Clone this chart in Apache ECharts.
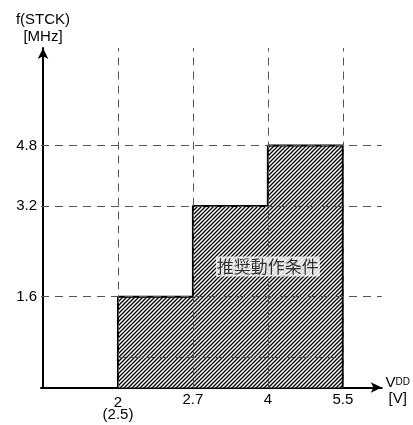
<!DOCTYPE html>
<html>
<head>
<meta charset="utf-8">
<script src="https://cdn.jsdelivr.net/npm/echarts@6/dist/echarts.min.js"></script>
<style>
  html, body { margin: 0; padding: 0; background: #fff; }
  #chart { width: 413px; height: 425px; }
</style>
</head>
<body>
<div id="chart"></div>
<script>
// VDD tick values [V], drawn equally spaced (schematic axis)
const vddTicks = [2, 2.7, 4, 5.5];
const vddSubLabels = ['(2.5)', '', '', ''];
// frequency ticks [MHz] and the schematic grid row each one sits on
const freqTicks = [1.6, 3.2, 4.8];
const freqRows = [3, 6, 8];
// max f(STCK) allowed in each VDD band [vddTicks[i], vddTicks[i+1]]
const bandMaxFreq = [1.6, 3.2, 4.8];
const regionLabel = '推奨動作条件';

const FONT = '"Liberation Sans", Arial, sans-serif';

function xPos(v) { return vddTicks.indexOf(v) + 1; }
function yPos(f) { return f === 0 ? 0 : freqRows[freqTicks.indexOf(f)]; }

// outline of the operating region
let outline = [[xPos(vddTicks[0]), 0]];
bandMaxFreq.forEach(function (f, i) {
  outline.push([xPos(vddTicks[i]), yPos(f)]);
  outline.push([xPos(vddTicks[i + 1]), yPos(f)]);
});
outline.push([xPos(vddTicks[vddTicks.length - 1]), 0]);

// diagonal hatch tile
function hatch() {
  let c = document.createElement('canvas');
  c.width = 4; c.height = 4;
  let g = c.getContext('2d');
  g.fillStyle = '#fff';
  g.fillRect(0, 0, 4, 4);
  g.strokeStyle = '#000';
  g.lineWidth = 1.3;
  g.beginPath();
  g.moveTo(-1, 5); g.lineTo(5, -1);
  g.moveTo(-1, 1); g.lineTo(1, -1);
  g.moveTo(3, 5); g.lineTo(5, 3);
  g.stroke();
  return c;
}

let guideLines = [];
freqTicks.forEach(function (f) { guideLines.push({ yAxis: yPos(f) }); });
vddTicks.forEach(function (v) { guideLines.push({ xAxis: xPos(v) }); });

let option = {
  animation: false,
  backgroundColor: '#fff',
  grid: { left: 41, right: 31, top: 48, bottom: 37.5 },
  xAxis: {
    type: 'value',
    min: -0.027,
    max: 4.52,
    splitLine: { show: false },
    axisTick: { show: false },
    axisLine: {
      lineStyle: { color: '#000', width: 2 },
      symbol: ['none', 'arrow'],
      symbolSize: [8, 11]
    },
    axisLabel: {
      customValues: vddTicks.map(xPos),
      color: '#000',
      fontFamily: FONT,
      fontSize: 15,
      margin: 5,
      formatter: function (v) {
        let i = Math.round(v) - 1;
        if (vddSubLabels[i]) return '{a|' + vddTicks[i] + '}\n{b|' + vddSubLabels[i] + '}';
        return vddTicks[i];
      },
      rich: {
        a: { fontFamily: FONT, fontSize: 15, color: '#000', lineHeight: 15, padding: [5, 0, 0, 0] },
        b: { fontFamily: FONT, fontSize: 15, color: '#000', lineHeight: 15 }
      }
    },
    name: '{v|V}{d|DD}\n{v|[V]}',
    nameLocation: 'end',
    nameGap: 16,
    nameTextStyle: {
      align: 'center',
      padding: [6, 0, 0, 0],
      rich: {
        v: { fontFamily: FONT, fontSize: 15, color: '#000', lineHeight: 16 },
        d: { fontFamily: FONT, fontSize: 10, color: '#000', lineHeight: 16 }
      }
    }
  },
  yAxis: {
    type: 'value',
    min: 0,
    max: 11.22,
    splitLine: { show: false },
    axisTick: { show: false },
    axisLine: {
      lineStyle: { color: '#000', width: 2 },
      symbol: ['none', 'arrow'],
      symbolSize: [8, 11]
    },
    axisLabel: {
      customValues: freqRows,
      color: '#000',
      fontFamily: FONT,
      fontSize: 15,
      margin: 4,
      formatter: function (v) { return freqTicks[freqRows.indexOf(v)].toFixed(1); }
    },
    name: 'f(STCK)\n[MHz]',
    nameLocation: 'end',
    nameGap: 3,
    nameTextStyle: {
      color: '#000',
      fontFamily: FONT,
      fontSize: 15,
      lineHeight: 17,
      align: 'center'
    }
  },
  series: [
    {
      type: 'line',
      data: outline,
      symbol: 'none',
      z: 2,
      lineStyle: { color: '#000', width: 2 },
      areaStyle: { color: { image: hatch(), repeat: 'repeat' }, opacity: 1 }
    },
    {
      type: 'line',
      data: [],
      z: 3,
      markLine: {
        silent: true,
        symbol: 'none',
        label: { show: false },
        lineStyle: { color: '#555', width: 1, type: [8, 6] },
        data: guideLines.concat([[{ coord: [1, 1] }, { coord: [4, 1] }]])
      }
    },
    {
      type: 'scatter',
      data: [[3, 4]],
      symbolSize: 0,
      z: 5,
      label: {
        show: true,
        position: 'inside',
        formatter: regionLabel,
        color: '#000',
        fontFamily: '"Noto Sans CJK JP", sans-serif',
        fontSize: 17,
        lineHeight: 20,
        backgroundColor: '#fff',
        padding: [0, 1]
      }
    }
  ]
};

let chart = echarts.init(document.getElementById('chart'));
chart.setOption(option);
</script>
</body>
</html>
